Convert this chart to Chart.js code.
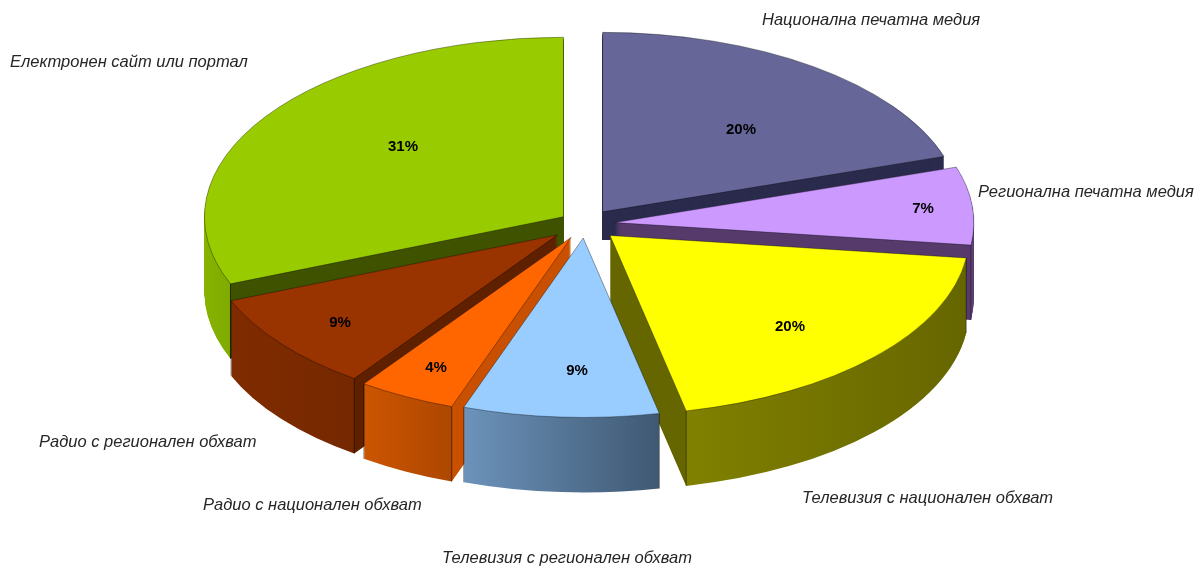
<!DOCTYPE html>
<html>
<head>
<meta charset="utf-8">
<title>Медии</title>
<script src="https://cdn.jsdelivr.net/npm/chart.js@4/dist/chart.umd.min.js"></script>
<style>
  html, body { margin: 0; padding: 0; background: #fff; }
  #wrap { width: 1196px; height: 569px; }
</style>
</head>
<body>
<div id="wrap"><canvas id="chart"></canvas></div>
<script>
const categories = [
  "Национална печатна медия",
  "Регионална печатна медия",
  "Телевизия с национален обхват",
  "Телевизия с регионален обхват",
  "Радио с национален обхват",
  "Радио с регионален обхват",
  "Електронен сайт или портал",
];
// the printed labels are these rounded
const shares = [20, 7, 19.6, 8.8, 4.4, 9.1, 31.1];

const topColors = ["#666699", "#cc99ff", "#ffff00", "#99ccff", "#ff6600", "#993300", "#99cc00"];
const sideColors = ["#2b2b4d", "#553a6b", "#666600", "#405a75", "#c85000", "#5f2000", "#3f5200"];
const rimLight = ["#666699", "#6b4a88", "#808000", "#6c93bb", "#cc5500", "#802b00", "#86b300"];
const rimDark = ["#2b2b4d", "#553a6b", "#666600", "#3f5872", "#ad4700", "#752800", "#80aa00"];

// slices are painted back to front
const paintOrder = [6, 0, 1, 2, 5, 4, 3];
const explode = [30, 30, 34, 28, 30, 35, 26];
const rimTrim = [0, 0, 0, 0, 0, 7, 0];
const TILT = 0.5;
const DEPTH = 75;
const BACK_WALL_FLOOR = 240; // the back slice's wall stops here in the original

const nameSpots = [[762, 20], [978, 192], [802, 498], [442, 558], [203, 505], [39, 442], [10, 62]];
const pctSpots = [[741, 130], [923, 209], [790, 327], [577, 371], [436, 368], [340, 323], [403, 147]];

function wallFill(ctx, arc, i) {
  // rim of the slice only faces the viewer on the lower half of the ellipse
  const from = Math.max(arc.startAngle, 0);
  const to = Math.min(arc.endAngle, Math.PI);
  if (to <= from) return sideColors[i];
  const x1 = arc.x + arc.outerRadius * Math.cos(from);
  const x0 = arc.x + arc.outerRadius * Math.cos(to);
  const w = ctx.canvas.width;
  // gradient is set in the face's space, the explode shift moves it along with the slice
  const g = ctx.createLinearGradient(0, 0, w, 0);
  const a = Math.max(0, x0 / w), b = Math.min(1, x1 / w);
  g.addColorStop(0, sideColors[i]);
  g.addColorStop(a, sideColors[i]);
  g.addColorStop(a, rimLight[i]);
  g.addColorStop(b, rimDark[i]);
  g.addColorStop(b, sideColors[i]);
  g.addColorStop(1, sideColors[i]);
  return g;
}

function placeFace(ctx, arc, dx, dy) {
  ctx.translate(arc.x + dx, arc.y + dy);
  ctx.scale(1, TILT);
  ctx.translate(-arc.x, -arc.y);
}

const pie3d = {
  id: "pie3d",
  beforeDatasetDraw(chart) {
    const ctx = chart.ctx;
    const arcs = chart.getDatasetMeta(0).data;
    paintOrder.forEach((i) => {
      const arc = arcs[i];
      const base = arc.options;
      const fullRadius = arc.outerRadius;
      arc.outerRadius = fullRadius - rimTrim[i];
      const mid = (arc.startAngle + arc.endAngle) / 2;
      const dx = Math.cos(mid) * explode[i];
      const dy = Math.sin(mid) * explode[i] * TILT;

      arc.options = Object.assign({}, base, { backgroundColor: wallFill(ctx, arc, i), borderWidth: 0 });
      ctx.save();
      if (i === 0) {
        ctx.beginPath();
        ctx.rect(0, 0, ctx.canvas.width, BACK_WALL_FLOOR);
        ctx.clip();
      }
      for (let d = DEPTH; d > 0; d--) {
        ctx.save();
        placeFace(ctx, arc, dx, dy + d);
        arc.draw(ctx);
        ctx.restore();
      }
      ctx.restore();

      // thin outline down the visible corners of the wall
      ctx.save();
      ctx.strokeStyle = "rgba(0,0,0,0.45)";
      ctx.lineWidth = 1;
      [arc.startAngle, arc.endAngle].forEach((a) => {
        if (Math.sin(a) <= 0) return;
        const x = arc.x + dx + arc.outerRadius * Math.cos(a);
        const y = arc.y + dy + arc.outerRadius * Math.sin(a) * TILT;
        ctx.beginPath();
        ctx.moveTo(x, y);
        ctx.lineTo(x, y + DEPTH);
        ctx.stroke();
      });
      ctx.restore();

      arc.options = base;
      ctx.save();
      placeFace(ctx, arc, dx, dy);
      arc.draw(ctx);
      ctx.restore();
      arc.outerRadius = fullRadius;
    });
    return false;
  },
  afterDatasetsDraw(chart) {
    const ctx = chart.ctx;
    ctx.save();
    ctx.textBaseline = "middle";
    ctx.textAlign = "left";
    ctx.fillStyle = "#262626";
    ctx.font = "italic 16.5px 'Liberation Sans', Arial, sans-serif";
    categories.forEach((name, i) => ctx.fillText(name, nameSpots[i][0], nameSpots[i][1]));
    ctx.textAlign = "center";
    ctx.fillStyle = "#000";
    ctx.font = "bold 15px 'Liberation Sans', Arial, sans-serif";
    shares.forEach((v, i) => ctx.fillText(Math.round(v) + "%", pctSpots[i][0], pctSpots[i][1]));
    ctx.restore();
  },
};

new Chart(document.getElementById("chart"), {
  type: "pie",
  data: {
    labels: categories,
    datasets: [{
      data: shares,
      backgroundColor: topColors,
      borderColor: "rgba(0,0,0,0.45)",
      borderWidth: 1,
      borderAlign: "center",
      radius: 359,
    }],
  },
  options: {
    responsive: true,
    maintainAspectRatio: false,
    animation: false,
    events: [],
    layout: { padding: { left: 0, right: 26, top: 0, bottom: 121 } },
    plugins: { legend: { display: false }, tooltip: { enabled: false } },
  },
  plugins: [pie3d],
});
</script>
</body>
</html>
